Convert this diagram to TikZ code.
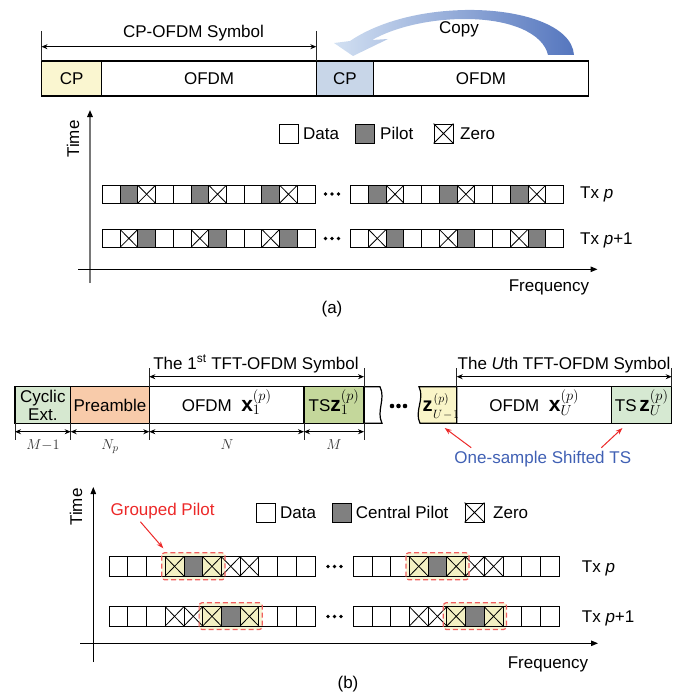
\documentclass[tikz,border=0pt]{standalone}
\usepackage{fontspec}
\setmainfont{Liberation Sans}
\usetikzlibrary{arrows.meta}
\definecolor{cpyellow}{RGB}{250,246,208}
\definecolor{cpblue}{RGB}{200,214,232}
\definecolor{cegreen}{RGB}{214,232,208}
\definecolor{prpeach}{RGB}{248,203,170}
\definecolor{tsgreen}{RGB}{196,215,155}
\definecolor{zyellow}{RGB}{250,245,200}
\definecolor{tsgreenb}{RGB}{214,233,210}
\definecolor{pilotgray}{RGB}{128,128,128}
\definecolor{gpyellow}{RGB}{243,240,195}
\definecolor{txtblue}{RGB}{64,96,180}
\definecolor{myred}{RGB}{236,40,40}
\definecolor{dashred}{RGB}{240,95,95}
\definecolor{copyL}{RGB}{210,224,242}
\definecolor{copyR}{RGB}{85,118,190}
\definecolor{axgray}{RGB}{120,120,120}
\newcommand{\cellrow}[5]{%
  \foreach \ct [count=\ci from 0] in {#5} {%
    \pgfmathsetmacro{\xa}{#1+\ci*#3}%
    \pgfmathsetmacro{\xb}{#1+(\ci+1)*#3}%
    \pgfmathsetmacro{\yb}{#2+#4}%
    \ifnum\ct=1 \fill[pilotgray] (\xa,#2) rectangle (\xb,\yb);\fi
    \ifnum\ct=3 \fill[gpyellow] (\xa,#2) rectangle (\xb,\yb);\fi
    \ifnum\ct>1 \draw[cellline] (\xa,#2) -- (\xb,\yb) (\xa,\yb) -- (\xb,#2);\fi
    \draw[cellline] (\xa,#2) rectangle (\xb,\yb);
  }%
}
\newcommand{\threedots}[3]{%
  \foreach \dx in {-6.5,0,6.5} {\fill ({#1+\dx},#2) circle[radius=#3];}%
}
\begin{document}
\begin{tikzpicture}[x=1pt,y=-1pt,
  txt/.style={font=\fontsize{17}{20}\selectfont, inner sep=0pt, text height=12.2pt, text depth=0pt},
  seg/.style={draw=black, line width=1.2pt, inner sep=0pt, outer sep=0pt, font=\fontsize{17}{20}\selectfont, text height=12.2pt, text depth=0pt},
  dim/.style={line width=0.6pt, draw=black!85},
  dimarr/.style={line width=0.8pt, {Stealth[length=6pt,width=5pt]}-{Stealth[length=6pt,width=5pt]}},
  axisarr/.style={line width=1pt, -{Triangle[length=7pt,width=5.5pt,color=black]}},
  cellline/.style={line width=0.8pt, draw=black},
  legbox/.style={draw=black, line width=0.8pt, minimum width=19pt, minimum height=19pt, inner sep=0pt},
  redarr/.style={draw=myred, line width=1pt, -{Stealth[length=7pt,width=5pt]}},
  gbox/.style={draw=dashred, line width=1.2pt, dash pattern=on 5pt off 3pt, rounded corners=3pt},
  mathlab/.style={font=\fontsize{15}{17}\selectfont, text=black!80, inner sep=0pt, text height=10.2pt, text depth=0pt},
  scr/.style={font=\fontsize{13}{15}\selectfont, inner sep=0pt, anchor=base west}
]
\useasboundingbox (0,0) rectangle (685,693);

% ================= (a) header =================
\node[seg, fill=cpyellow, minimum width=60.3pt, minimum height=35pt] (cpa) at (71.65,78.5) {CP};
\node[seg, minimum width=214.5pt, minimum height=35pt] (ofa) at (209.05,78.5) {OFDM};
\node[seg, fill=cpblue, minimum width=57.2pt, minimum height=35pt] (cpb) at (344.9,78.5) {CP};
\node[seg, minimum width=215pt, minimum height=35pt] (ofb) at (481,78.5) {OFDM};
\coordinate (ta1) at (41.5,31);
\coordinate (ta2) at (316.3,31);
\draw[dim] (ta1) -- (cpa.north west);
\draw[dim] (ta2) -- (ofa.north east);
\coordinate (aa1) at (41.5,46.7);
\coordinate (aa2) at (316.3,46.7);
\draw[dimarr] (aa1) -- (aa2);
\node[txt] (cpsym) at (193.5,31) {CP-OFDM Symbol};
% copy arrow
\shade[left color=copyL, right color=copyR]
  (574,55) .. controls (572,25) and (520,9) .. (465,10)
  .. controls (415,11) and (375,24) .. (350,41)
  -- (334,43) -- (353,56) -- (388,39) -- (372,40)
  .. controls (395,27) and (430,19) .. (465,19)
  .. controls (510,19) and (543,33) .. (548,55) -- cycle;
\node[txt] (copy) at (459,27) {Copy};

% ================= (a) grid =================
\draw[axisarr, draw=axgray, line width=1.5pt] (90,283) -- (90,110);
\draw[axisarr] (78,269.3) -- (597.5,269.3);
\node[txt, rotate=90] (timea) at (73,139) {Time};
\node[txt] (freqa) at (549,285) {Frequency};
\node[txt] (laba) at (332,307) {(a)};

\node[legbox] (lda) at (288.5,133.5) {};
\node[txt, anchor=west] (ldat) at (303,133.5) {Data};
\node[legbox, fill=pilotgray] (lpa) at (364.5,133.5) {};
\node[txt, anchor=west] (lpat) at (380,133.5) {Pilot};
\node[legbox] (lza) at (443.5,133.5) {};
\draw[cellline] (lza.north west) -- (lza.south east) (lza.south west) -- (lza.north east);
\node[txt, anchor=west] (lzat) at (460,133.5) {Zero};

\cellrow{102.3}{185.2}{17.73}{18}{0,1,2,0,0,1,2,0,0,1,2,0}
\cellrow{350.7}{185.2}{17.72}{18}{0,1,2,0,0,1,2,0,0,1,2,0}
\cellrow{102.3}{229.4}{17.73}{18}{0,2,1,0,0,2,1,0,0,2,1,0}
\cellrow{350.7}{229.4}{17.72}{18}{0,2,1,0,0,2,1,0,0,2,1,0}
\threedots{332}{194}{1.9}
\threedots{332}{238.5}{1.9}
\node[txt, anchor=west] (txa1) at (580,192.5) {Tx \textit{p}};
\node[txt, anchor=west] (txa2) at (580,238) {Tx \textit{p}+1};

% ================= (b) header =================
\node[seg, fill=cegreen, minimum width=55.7pt, minimum height=36.6pt] (ce) at (42.85,405) {};
\node[align=center, font=\fontsize{17}{18}\selectfont, inner sep=0pt] (cet) at (42.85,405) {Cyclic\\Ext.};
\node[seg, fill=prpeach, minimum width=78.6pt, minimum height=36.6pt] (pre) at (110,405) {Preamble};
\node[seg, minimum width=154.7pt, minimum height=36.6pt] (of1) at (226.65,405) {};
\node[txt] (of1t) at (226.65,405) {OFDM\ \ {\fontsize{21}{23}\selectfont$\mathbf{x}_1^{(p)}$}};
\node[seg, fill=tsgreen, minimum width=60pt, minimum height=36.6pt] (ts1) at (334,405) {};
\node[txt] (ts1t) at (334,405) {TS{\fontsize{21}{23}\selectfont$\mathbf{z}_1^{(p)}$}};
\draw[line width=1.2pt] (ts1.north east) -- (380,386.7) .. controls (386,399) and (376,411) .. (382,423.3) -- (ts1.south east);
\node[seg, minimum width=155pt, minimum height=36.6pt] (ofu) at (534.2,405) {};
\node[txt] (ofut) at (534.2,405) {OFDM\ \ {\fontsize{21}{23}\selectfont$\mathbf{x}_U^{(p)}$}};
\filldraw[fill=zyellow, line width=1.2pt] (ofu.north west) -- (419,386.7) .. controls (425,399) and (414,411) .. (420,423.3) -- (ofu.south west) -- cycle;
\node[font=\fontsize{20}{22}\selectfont, inner sep=0pt, anchor=base] (zu1z) at (427.5,411) {$\mathbf{z}$};
\node[scr] (zu1p) at (433.5,402.5) {$(p)$};
\node[scr] (zu1s) at (433,418.5) {$U\!-\!1$};
\node[seg, fill=tsgreenb, minimum width=60pt, minimum height=36.6pt] (tsu) at (641.7,405) {};
\node[txt] (tsut) at (641.7,405) {TS\,{\fontsize{21}{23}\selectfont$\mathbf{z}_U^{(p)}$}};
\threedots{398.5}{406}{2.3}

% top dimensions
\coordinate (t1a) at (149.3,368);
\coordinate (t1b) at (364,368);
\draw[dim] (t1a) -- (of1.north west);
\draw[dim] (t1b) -- (ts1.north east);
\coordinate (d1a) at (149.3,376.7);
\coordinate (d1b) at (364,376.7);
\draw[dimarr] (d1a) -- (d1b);
\node[txt] (sym1) at (256,363) {The 1\textsuperscript{st} TFT-OFDM Symbol};
\coordinate (tua) at (456.7,368);
\coordinate (tub) at (671.7,368);
\draw[dim] (tua) -- (ofu.north west);
\draw[dim] (tub) -- (tsu.north east);
\coordinate (dua) at (456.7,376.7);
\coordinate (dub) at (671.7,376.7);
\draw[dimarr] (dua) -- (dub);
\node[txt] (symu) at (564,363) {The \textit{U}th TFT-OFDM Symbol};

% bottom dimensions
\foreach \tx/\tn in {15/b0,70.7/b1,149.3/b2,304/b3,364/b4} {
  \coordinate (\tn) at (\tx,440);
  \draw[dim] (\tx,423.3) -- (\tn);
}
\coordinate (m0) at (15,431.7);
\coordinate (m1) at (70.7,431.7);
\coordinate (m2) at (149.3,431.7);
\coordinate (m3) at (304,431.7);
\coordinate (m4) at (364,431.7);
\draw[dimarr] (m0) -- (m1);
\draw[dimarr] (m1) -- (m2);
\draw[dimarr] (m2) -- (m3);
\draw[dimarr] (m3) -- (m4);
\node[mathlab] (lm1) at (43,444.5) {$M{-}1$};
\node[mathlab] (lnp) at (110,444.5) {$N_p$};
\node[mathlab] (ln) at (227,444.5) {$N$};
\node[mathlab] (lm) at (334,444.5) {$M$};

\node[txt, text=txtblue] (os) at (542.8,457) {One-sample Shifted TS};
\coordinate (zu1b) at (444.7,428);
\coordinate (tsub) at (622.5,428);
\draw[redarr] ([xshift=17pt,yshift=3pt]os.north west) -- (zu1b);
\draw[redarr] ([xshift=-30pt,yshift=3pt]os.north east) -- (tsub);

% ================= (b) grid =================
\draw[axisarr] (93.3,662) -- (93.3,487);
\draw[axisarr] (80,643.3) -- (598,643.3);
\node[txt, rotate=90] (timeb) at (76,507) {Time};
\node[txt] (freqb) at (548,662) {Frequency};
\node[txt] (labb) at (348,682) {(b)};

\node[legbox] (ldb) at (266.35,512.5) {};
\node[txt, anchor=west] (ldbt) at (280,512.5) {Data};
\node[legbox, fill=pilotgray] (lpb) at (341.7,512.5) {};
\node[txt, anchor=west] (lpbt) at (355.7,512.5) {Central Pilot};
\node[legbox] (lzb) at (474.5,512.5) {};
\draw[cellline] (lzb.north west) -- (lzb.south east) (lzb.south west) -- (lzb.north east);
\node[txt, anchor=west] (lzbt) at (493,512.5) {Zero};

\node[txt, text=myred] (gp) at (162.6,509.5) {Grouped Pilot};
\coordinate (gpt) at (163.3,548.3);
\draw[redarr] ([xshift=30pt,yshift=-6pt]gp.south west) -- (gpt);

% group box fills
\fill[gpyellow!70, rounded corners=3pt] (161.7,552.7) rectangle (225,579.8);
\fill[gpyellow!70, rounded corners=3pt] (405.9,552.7) rectangle (469,579.8);
\fill[gpyellow!70, rounded corners=3pt] (199.1,602.7) rectangle (262.3,629.5);
\fill[gpyellow!70, rounded corners=3pt] (443.3,602.7) rectangle (506.4,629.5);

\cellrow{109}{556.7}{18.727}{19.3}{0,0,0,3,1,3,2,2,0,0,0}
\cellrow{353.3}{556.7}{18.7}{19.3}{0,0,0,3,1,3,2,2,0,0,0}
\cellrow{109}{606.7}{18.727}{19.3}{0,0,0,2,2,3,1,3,0,0,0}
\cellrow{353.3}{606.7}{18.7}{19.3}{0,0,0,2,2,3,1,3,0,0,0}

\draw[gbox] (161.7,552.7) rectangle (225,579.8);
\draw[gbox] (405.9,552.7) rectangle (469,579.8);
\draw[gbox] (199.1,602.7) rectangle (262.3,629.5);
\draw[gbox] (443.3,602.7) rectangle (506.4,629.5);

\threedots{334.5}{566.5}{1.9}
\threedots{334.5}{616.5}{1.9}
\node[txt, anchor=west] (txb1) at (581.7,566.4) {Tx \textit{p}};
\node[txt, anchor=west] (txb2) at (581.7,616.4) {Tx \textit{p}+1};
\end{tikzpicture}
\end{document}
